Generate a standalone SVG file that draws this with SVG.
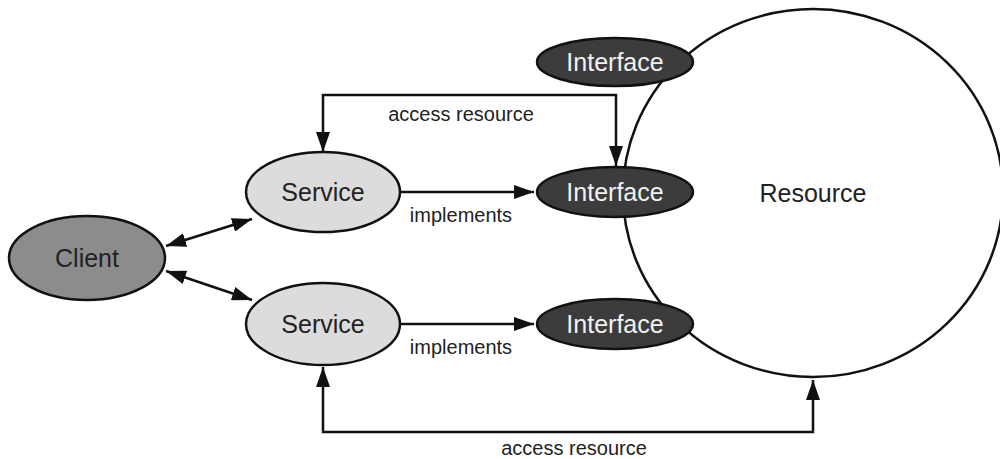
<svg xmlns="http://www.w3.org/2000/svg" width="1000" height="459" viewBox="0 0 1000 459">
  <style>
    .node { stroke: #111; stroke-width: 2.5; }
    .client { fill: #8c8c8c; }
    .service { fill: #dcdcdc; }
    .iface { fill: #3c3c3c; }
    .res { fill: #fff; }
    .lbl { font-family: "Liberation Sans", Arial, sans-serif; font-size: 25px; text-anchor: middle; dominant-baseline: central; fill: #222; }
    .lbl.light { fill: #f2f2f2; }
    .edge { fill: none; stroke: #111; stroke-width: 2.5; }
    .elbl { font-family: "Liberation Sans", Arial, sans-serif; font-size: 20px; text-anchor: middle; fill: #222; }
  </style>
  <defs>
    <marker id="arrow" viewBox="0 0 20 14" refX="20" refY="7" markerWidth="20" markerHeight="14" markerUnits="userSpaceOnUse" orient="auto-start-reverse">
      <path d="M0,0 L20,7 L0,14 Z" fill="#111"/>
    </marker>
  </defs>

  <rect width="1000" height="459" fill="#fff"/>

  <g id="resource">
    <ellipse class="node res" cx="813" cy="193" rx="190" ry="184"/>
    <text class="lbl" x="813" y="193">Resource</text>
  </g>

  <g id="interface-top">
    <ellipse class="node iface" cx="615" cy="62" rx="78" ry="24"/>
    <text class="lbl light" x="615" y="62">Interface</text>
  </g>
  <g id="interface-mid">
    <ellipse class="node iface" cx="615" cy="192" rx="78" ry="25"/>
    <text class="lbl light" x="615" y="192">Interface</text>
  </g>
  <g id="interface-bottom">
    <ellipse class="node iface" cx="615" cy="324" rx="78" ry="25"/>
    <text class="lbl light" x="615" y="324">Interface</text>
  </g>

  <g id="service-top">
    <ellipse class="node service" cx="323" cy="192" rx="77" ry="40"/>
    <text class="lbl" x="323" y="192">Service</text>
  </g>
  <g id="service-bottom">
    <ellipse class="node service" cx="323" cy="324" rx="77" ry="41"/>
    <text class="lbl" x="323" y="324">Service</text>
  </g>

  <g id="client">
    <ellipse class="node client" cx="87" cy="258" rx="78" ry="42"/>
    <text class="lbl" x="87" y="258">Client</text>
  </g>

  <g id="connectors">
    <path class="edge" d="M616,166 V95 H323 V152" marker-start="url(#arrow)" marker-end="url(#arrow)"/>
    <text class="elbl" x="461" y="121">access resource</text>

    <path class="edge" d="M401,192 H534" marker-end="url(#arrow)"/>
    <text class="elbl" x="461" y="222">implements</text>

    <path class="edge" d="M401,324 H534" marker-end="url(#arrow)"/>
    <text class="elbl" x="461" y="354">implements</text>

    <path class="edge" d="M323,367 V432 H813 V380" marker-start="url(#arrow)" marker-end="url(#arrow)"/>
    <text class="elbl" x="574" y="455">access resource</text>

    <path class="edge" d="M166,246 L252,219" marker-start="url(#arrow)" marker-end="url(#arrow)"/>
    <path class="edge" d="M166,271 L252,300" marker-start="url(#arrow)" marker-end="url(#arrow)"/>
  </g>
</svg>
